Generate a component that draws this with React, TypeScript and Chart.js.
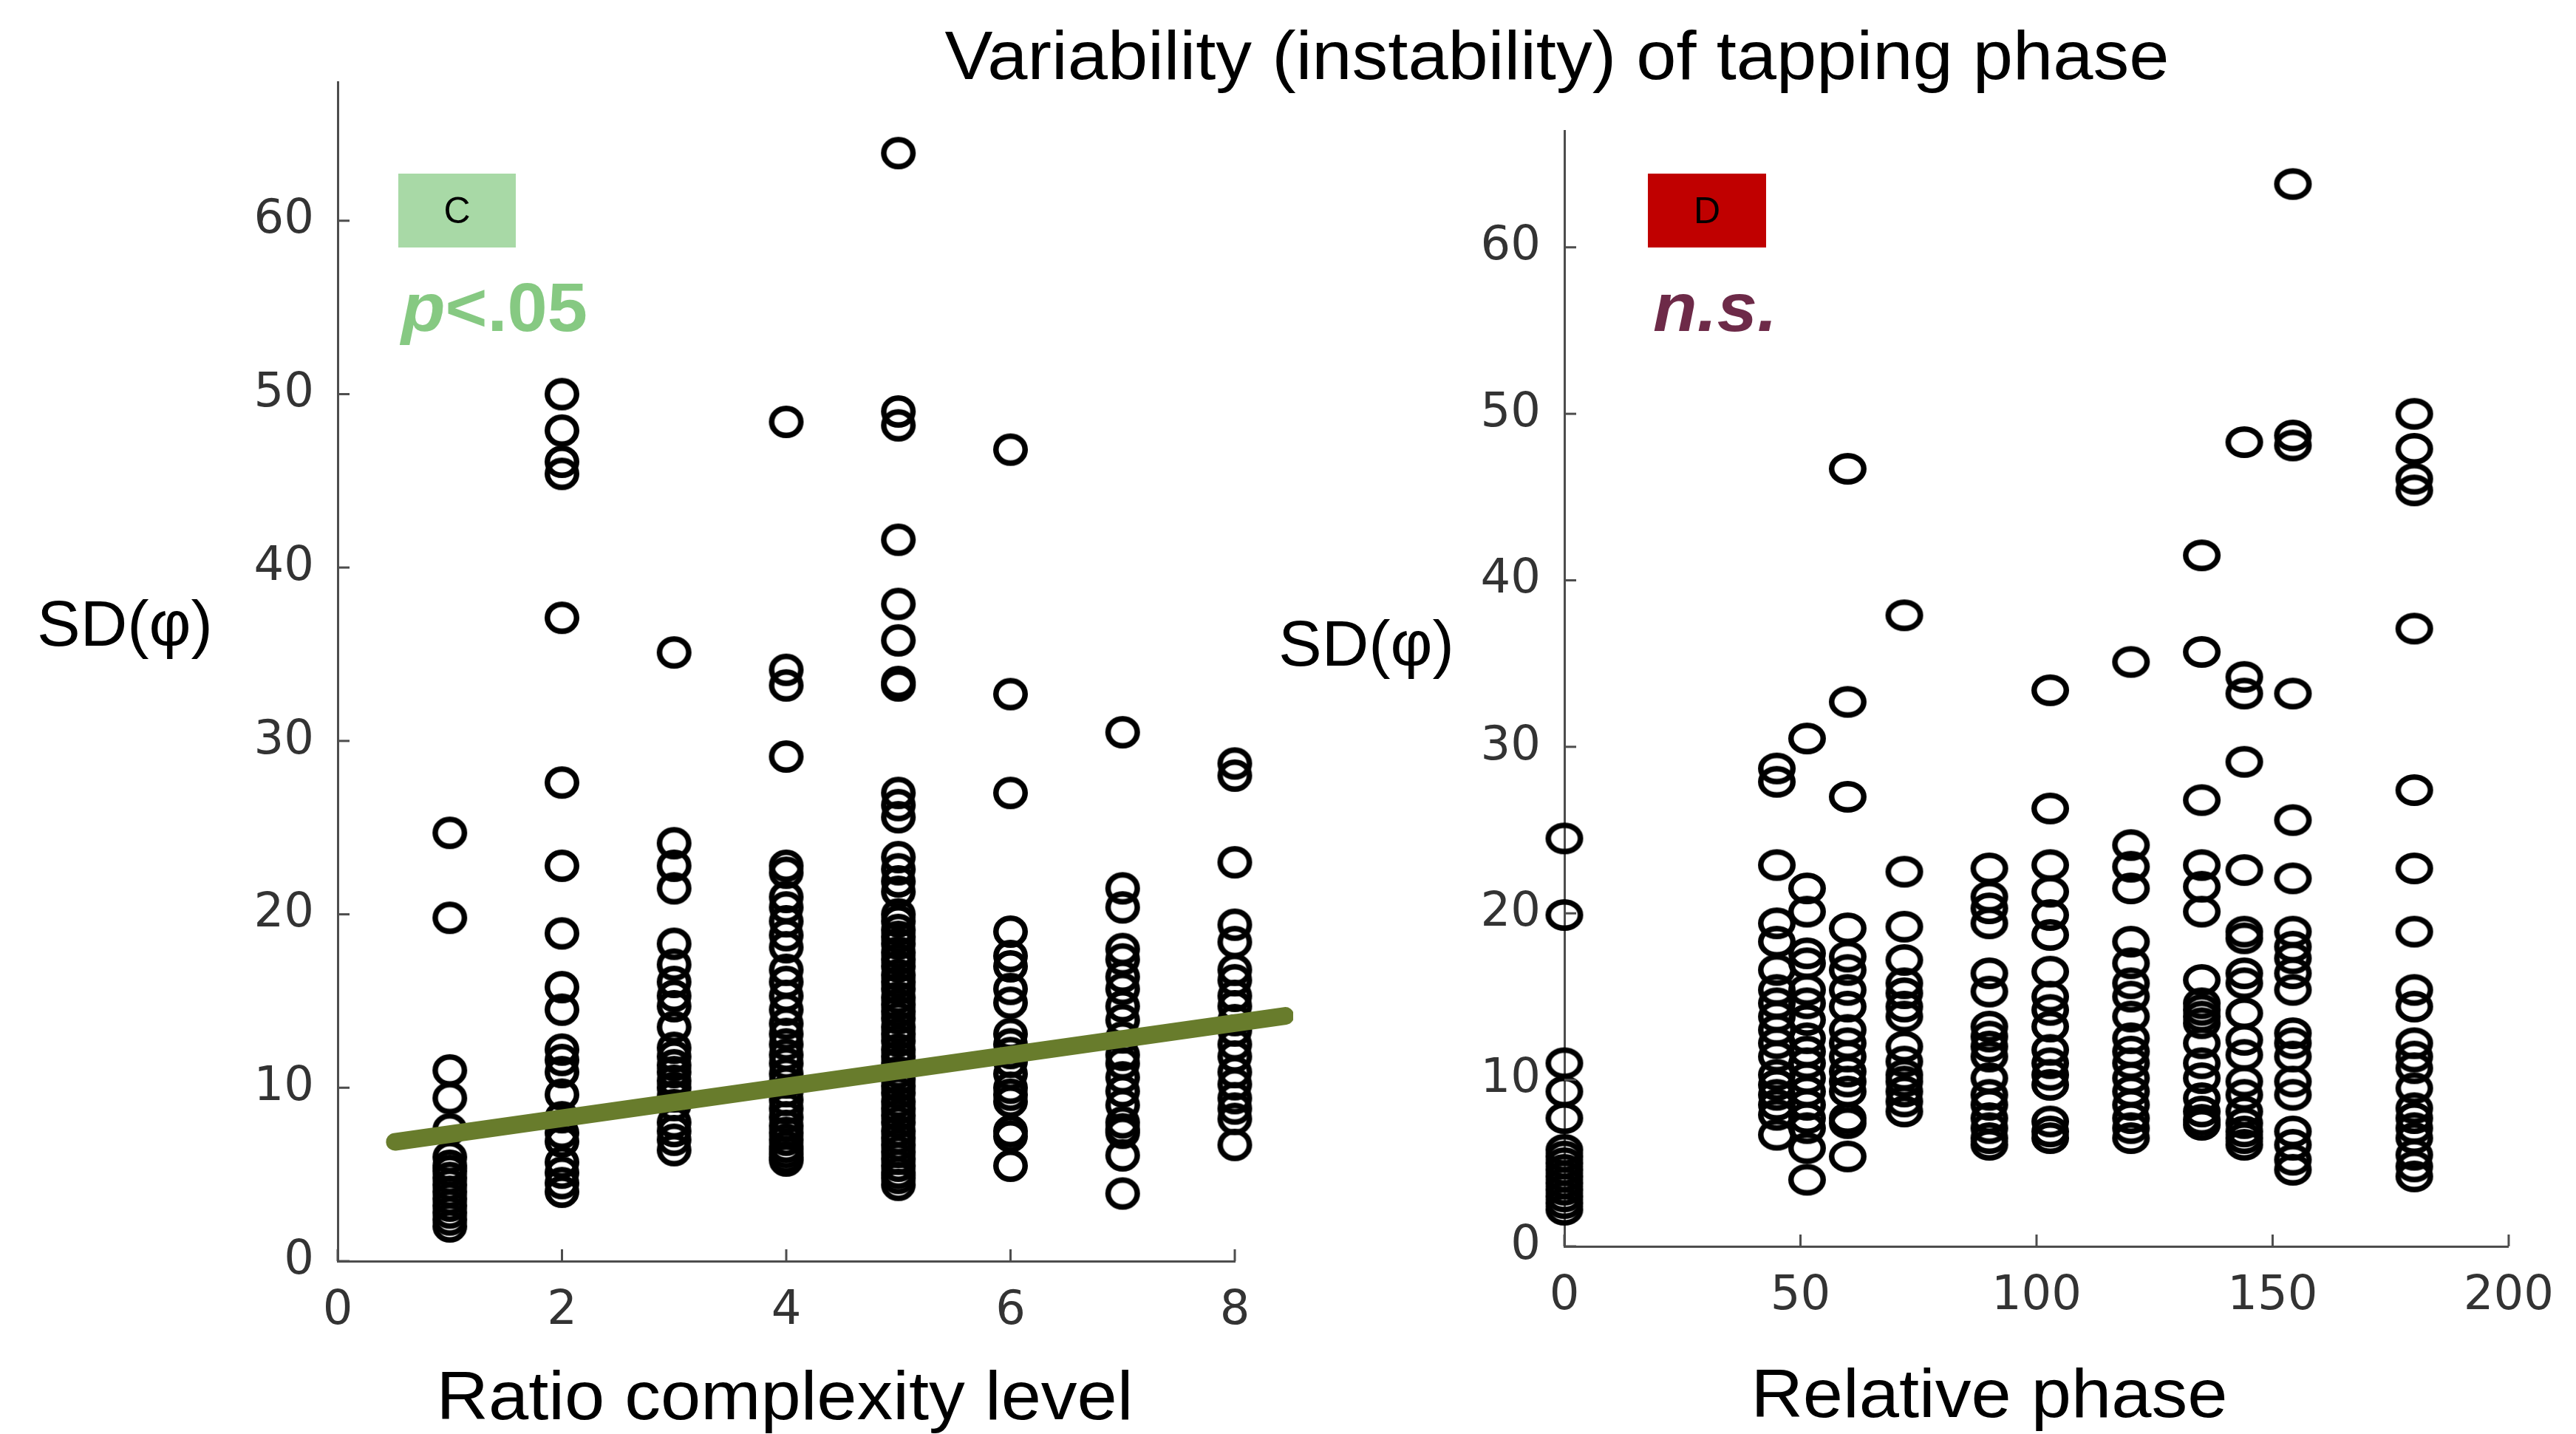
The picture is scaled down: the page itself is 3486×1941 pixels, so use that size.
import React, { useEffect, useRef } from "react";
import { Chart, registerables } from "chart.js";

Chart.register(...registerables);

// ---------- Panel C: SD(phi) by ratio complexity level ----------
const complexityLevels = [1, 2, 3, 4, 5, 6, 7, 8];
const sdLevel1 = [24.7, 19.8, 11.0, 9.4, 7.6, 6.0, 5.5, 5.2, 4.8, 4.4, 4.0, 3.6, 3.2, 2.8, 2.4, 2.0];
const sdLevel2 = [50.0, 47.9, 46.1, 45.4, 37.1, 27.6, 22.8, 18.9, 15.8, 14.5, 12.2, 11.6, 10.9, 9.6, 8.3, 7.4, 6.9, 5.7, 5.1, 4.5, 4.0];
const sdLevel3 = [35.1, 24.1, 22.8, 21.5, 18.3, 17.1, 16.1, 15.3, 14.7, 13.5, 12.3, 11.8, 11.3, 10.9, 10.4, 10.0, 9.5, 9.0, 8.0, 7.5, 7.0, 6.4];
const sdLevel4 = [48.4, 34.1, 33.2, 29.1, 22.8, 22.4, 21.0, 20.4, 19.6, 18.8, 18.1, 16.8, 16.1, 15.3, 14.5, 13.7, 13.1, 12.5, 11.9, 11.4, 10.8, 10.3, 9.8, 9.3, 8.8, 8.3, 7.8, 7.4, 7.0, 6.6, 6.3, 6.0, 5.8];
const sdLevel5 = [63.9, 49.0, 48.2, 41.6, 37.9, 35.8, 33.4, 33.2, 27.0, 26.3, 25.6, 23.3, 22.6, 21.9, 21.3, 20.0, 19.6, 19.1, 18.7, 18.3, 17.8, 17.4, 17.0, 16.5, 16.1, 15.7, 15.2, 14.8, 14.4, 14.0, 13.5, 13.1, 12.7, 12.2, 11.8, 11.4, 10.9, 10.5, 10.1, 9.7, 9.2, 8.8, 8.4, 8.0, 7.5, 7.1, 6.7, 6.3, 5.9, 5.5, 5.1, 4.8, 4.4];
const sdLevel6 = [46.8, 32.7, 27.0, 19.0, 17.6, 17.0, 15.7, 14.9, 13.1, 12.5, 12.0, 11.5, 10.8, 10.0, 9.6, 9.2, 7.5, 7.2, 5.5];
const sdLevel7 = [30.5, 21.5, 20.4, 18.0, 17.4, 16.4, 15.7, 14.7, 13.9, 12.9, 11.9, 11.4, 10.6, 9.8, 9.0, 8.0, 7.6, 7.4, 6.1, 3.9];
const sdLevel8 = [28.7, 28.0, 23.0, 19.4, 18.4, 16.8, 16.2, 15.3, 14.7, 13.9, 13.3, 12.5, 11.8, 10.9, 10.2, 9.4, 8.8, 8.2, 6.7];
const sdByLevel = [sdLevel1, sdLevel2, sdLevel3, sdLevel4, sdLevel5, sdLevel6, sdLevel7, sdLevel8];

// regression line (end points)
const fitX = [0.51, 8.45];
const fitY = [6.88, 14.14];

// ---------- Panel D: SD(phi) by relative phase ----------
const relativePhases = [0, 45, 51.4, 60, 72, 90, 102.9, 120, 135, 144, 154.3, 180];
const sdPhase0 = [24.5, 19.9, 11.0, 9.3, 7.7, 5.8, 5.4, 5.0, 4.6, 4.2, 3.8, 3.4, 3.0, 2.6, 2.2];
const sdPhase45 = [28.7, 27.9, 22.9, 19.4, 18.3, 16.6, 15.4, 14.6, 13.8, 13.0, 12.2, 11.4, 10.3, 9.7, 9.1, 8.5, 7.9, 6.7];
const sdPhase51 = [30.5, 21.5, 20.1, 17.6, 17.0, 15.4, 14.6, 13.6, 12.5, 11.7, 11.0, 10.1, 9.3, 8.5, 7.7, 7.1, 5.9, 4.0];
const sdPhase60 = [46.7, 32.7, 27.0, 19.1, 17.4, 16.6, 15.4, 14.4, 13.0, 12.2, 11.4, 10.5, 9.9, 9.3, 7.7, 7.4, 5.4];
const sdPhase72 = [37.9, 22.5, 19.2, 17.2, 15.8, 15.2, 14.4, 13.8, 12.0, 11.1, 10.3, 9.9, 9.3, 8.7, 8.1];
const sdPhase90 = [22.7, 21.0, 20.3, 19.4, 16.4, 15.3, 13.2, 12.6, 12.0, 11.4, 10.1, 9.1, 8.5, 7.7, 7.1, 6.5, 6.1];
const sdPhase103 = [33.4, 26.3, 22.9, 21.3, 19.9, 18.7, 16.5, 15.0, 14.2, 13.2, 11.8, 11.0, 10.3, 9.7, 7.5, 6.9, 6.5];
const sdPhase120 = [35.1, 24.1, 22.8, 21.5, 18.3, 17.0, 15.8, 15.0, 13.8, 12.5, 11.7, 11.0, 10.1, 9.3, 8.5, 7.7, 7.1, 6.5];
const sdPhase135 = [41.5, 35.7, 26.8, 22.9, 21.6, 20.1, 16.0, 14.6, 14.2, 13.8, 13.4, 12.2, 11.0, 10.1, 8.9, 8.1, 7.6, 7.3];
const sdPhase144 = [48.3, 34.2, 33.2, 29.1, 22.6, 18.9, 18.5, 16.4, 15.8, 14.0, 12.4, 11.5, 9.9, 9.1, 8.1, 7.4, 6.9, 6.5, 6.1];
const sdPhase154 = [63.8, 48.7, 48.1, 33.2, 25.6, 22.1, 18.9, 18.0, 17.3, 16.4, 15.4, 12.8, 12.2, 11.4, 9.9, 9.1, 6.9, 6.1, 5.2, 4.6];
const sdPhase180 = [50.0, 47.9, 46.1, 45.4, 37.1, 27.4, 22.7, 18.9, 15.4, 14.4, 12.2, 11.4, 10.7, 9.5, 8.3, 7.7, 7.1, 6.5, 5.5, 4.8, 4.2];
const sdByPhase = [sdPhase0, sdPhase45, sdPhase51, sdPhase60, sdPhase72, sdPhase90, sdPhase103, sdPhase120, sdPhase135, sdPhase144, sdPhase154, sdPhase180];

// ---------- tick labels ----------
const xTicksLeft = [0, 2, 4, 6, 8];
const xTicksRight = [0, 50, 100, 150, 200];
const yTicks = [0, 10, 20, 30, 40, 50, 60];

const AXIS_COLOR = "#4d4d4d";
const TICK_COLOR = "#333333";
const TICK_FONT = { family: "'DejaVu Sans', sans-serif", size: 64 };

function makeRing(w: number, h: number, lw: number) {
  const c = document.createElement("canvas");
  c.width = w + 2;
  c.height = h + 2;
  const ctx = c.getContext("2d")!;
  ctx.strokeStyle = "#000";
  ctx.lineWidth = lw;
  ctx.beginPath();
  ctx.ellipse(c.width / 2, c.height / 2, (w - lw) / 2, (h - lw) / 2, 0, 0, Math.PI * 2);
  ctx.stroke();
  return c;
}

const inwardTicks = {
  id: "inwardTicks",
  afterDraw(chart: any) {
    const { ctx, chartArea, scales } = chart;
    ctx.save();
    ctx.strokeStyle = AXIS_COLOR;
    ctx.lineWidth = 3;
    scales.x.ticks.forEach((t: any) => {
      const px = scales.x.getPixelForValue(t.value);
      ctx.beginPath();
      ctx.moveTo(px, chartArea.bottom);
      ctx.lineTo(px, chartArea.bottom - 16);
      ctx.stroke();
    });
    scales.y.ticks.forEach((t: any) => {
      const py = scales.y.getPixelForValue(t.value);
      ctx.beginPath();
      ctx.moveTo(chartArea.left, py);
      ctx.lineTo(chartArea.left + 16, py);
      ctx.stroke();
    });
    ctx.restore();
  },
};

function axis(min: number, max: number, ticks: number[], size: number, isX: boolean, pad: number) {
  return {
    type: "linear",
    min,
    max,
    afterBuildTicks: (s: any) => {
      s.ticks = ticks.map((v) => ({ value: v }));
    },
    afterFit: (s: any) => {
      if (isX) s.height = size;
      else s.width = size;
    },
    grid: { display: false, drawTicks: false },
    border: { display: true, color: AXIS_COLOR, width: 3 },
    ticks: {
      font: TICK_FONT,
      color: TICK_COLOR,
      padding: pad,
      maxRotation: 0,
      autoSkip: false,
    },
  };
}

function PanelC() {
  const ref = useRef<HTMLCanvasElement>(null);
  useEffect(() => {
    const ring = makeRing(47, 44, 7.5);
    const points: { x: number; y: number }[] = [];
    complexityLevels.forEach((lvl, i) => sdByLevel[i].forEach((v) => points.push({ x: lvl, y: v })));
    const chart = new Chart(ref.current!, {
      type: "scatter",
      data: {
        datasets: [
          {
            type: "line",
            data: fitX.map((x, i) => ({ x, y: fitY[i] })),
            borderColor: "#687c2c",
            borderWidth: 24,
            borderCapStyle: "round",
            pointRadius: 0,
            clip: false,
          } as any,
          {
            type: "scatter",
            data: points,
            pointStyle: ring as any,
            pointRadius: 22,
            clip: false,
          } as any,
        ],
      },
      options: {
        animation: false,
        responsive: false,
        devicePixelRatio: 1,
        layout: { padding: { left: 0, top: 111, right: 79, bottom: 0 } },
        plugins: { legend: { display: false }, tooltip: { enabled: false } },
        scales: {
          x: axis(0, 8, xTicksLeft, 234, true, 30) as any,
          y: axis(0, 68, yTicks, 457, false, 32) as any,
        },
      },
      plugins: [inwardTicks],
    });
    return () => chart.destroy();
  }, []);
  return (
    <canvas ref={ref} width={1750} height={1941} style={{ position: "absolute", left: 0, top: 0, width: 1750, height: 1941 }} />
  );
}

function PanelD() {
  const ref = useRef<HTMLCanvasElement>(null);
  useEffect(() => {
    const ring = makeRing(51, 43, 7.5);
    const points: { x: number; y: number }[] = [];
    relativePhases.forEach((ph, i) => sdByPhase[i].forEach((v) => points.push({ x: ph, y: v })));
    const chart = new Chart(ref.current!, {
      type: "scatter",
      data: {
        datasets: [
          {
            type: "scatter",
            data: points,
            pointStyle: ring as any,
            pointRadius: 22,
            clip: false,
          } as any,
        ],
      },
      options: {
        animation: false,
        responsive: false,
        devicePixelRatio: 1,
        layout: { padding: { left: 0, top: 177, right: 81, bottom: 0 } },
        plugins: { legend: { display: false }, tooltip: { enabled: false } },
        scales: {
          x: axis(0, 200, xTicksRight, 254, true, 30) as any,
          y: axis(0, 67, yTicks, 367, false, 32) as any,
        },
      },
      plugins: [inwardTicks],
    });
    return () => chart.destroy();
  }, []);
  return (
    <canvas ref={ref} width={1736} height={1941} style={{ position: "absolute", left: 1750, top: 0, width: 1736, height: 1941 }} />
  );
}

const SANS = "'Liberation Sans', Arial, Helvetica, sans-serif";

function Label(props: {
  x: number;
  y: number;
  size: number;
  center?: boolean;
  color?: string;
  bold?: boolean;
  stretch?: number;
  children: React.ReactNode;
}) {
  const { x, y, size, center, color, bold, children } = props;
  const sx = props.stretch ?? 1.06;
  return (
    <div
      style={{
        position: "absolute",
        left: x,
        top: y,
        fontFamily: SANS,
        fontSize: size,
        lineHeight: 1,
        whiteSpace: "nowrap",
        color: color || "#000",
        fontWeight: bold ? 700 : 400,
        transform: center ? `translateX(-50%) scaleX(${sx})` : `scaleX(${sx})`,
        transformOrigin: center ? "50% 50%" : "0 50%",
      }}
    >
      {children}
    </div>
  );
}

export default function App() {
  return (
    <div
      style={{
        position: "fixed",
        left: 0,
        top: 0,
        width: 3486,
        height: 1941,
        background: "#ffffff",
        overflow: "hidden",
      }}
    >
      <PanelC />
      <PanelD />
      <Label x={2107} y={29} size={92} center>
        Variability (instability) of tapping phase
      </Label>
      <Label x={50} y={800} size={88} stretch={1}>
        SD(φ)
      </Label>
      <Label x={1730} y={827} size={88} stretch={1}>
        SD(φ)
      </Label>
      <Label x={1062} y={1843} size={92} center>
        Ratio complexity level
      </Label>
      <Label x={2692} y={1840} size={92} center>
        Relative phase
      </Label>
      <div
        style={{
          position: "absolute",
          left: 539,
          top: 235,
          width: 159,
          height: 100,
          background: "#a8d9a6",
          display: "flex",
          alignItems: "center",
          justifyContent: "center",
          fontFamily: SANS,
          fontSize: 50,
          color: "#000",
        }}
      >
        C
      </div>
      <div
        style={{
          position: "absolute",
          left: 2230,
          top: 235,
          width: 160,
          height: 100,
          background: "#c00000",
          display: "flex",
          alignItems: "center",
          justifyContent: "center",
          fontFamily: SANS,
          fontSize: 50,
          color: "#000",
        }}
      >
        D
      </div>
      <Label x={543} y={370} size={92} color="#86c982" bold>
        <i>p</i>&lt;.05
      </Label>
      <Label x={2237} y={370} size={92} color="#6d2a48" bold>
        <i>n.s.</i>
      </Label>
    </div>
  );
}
